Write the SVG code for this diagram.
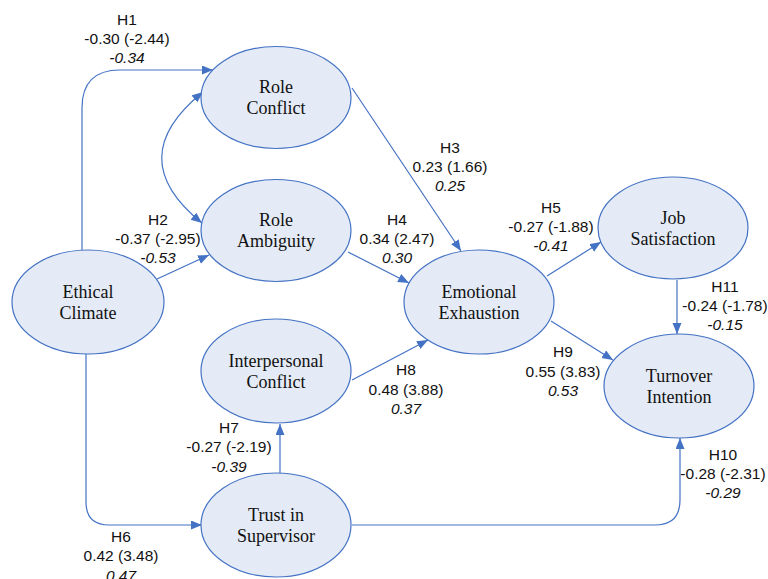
<svg xmlns="http://www.w3.org/2000/svg" width="768" height="579" viewBox="0 0 768 579">
<style>
.node ellipse{fill:#E4EBF6;stroke:#4472C4;stroke-width:1.2}
.node text{font-family:"Liberation Serif","Times New Roman",serif;font-size:18px;fill:#111;text-anchor:middle}
.edge{fill:none;stroke:#4472C4;stroke-width:1.2}
.lbl{font-family:"Liberation Sans",Arial,sans-serif;font-size:15.5px;fill:#111;text-anchor:middle}
.it{font-style:italic}
</style>
<defs>
<marker id="ah" markerUnits="userSpaceOnUse" markerWidth="12" markerHeight="10" refX="11" refY="4.5" orient="auto-start-reverse">
<path d="M0,0 L11,4.5 L0,9 z" fill="#4472C4"/>
</marker>
</defs>
<rect width="768" height="579" fill="#fff"/>
<g id="connectors">
<path class="edge" d="M82,250 V108 Q82,70 120,70 H213" marker-end="url(#ah)"/>
<path class="edge" d="M157,279 L209,255" marker-end="url(#ah)"/>
<path class="edge" d="M203,92 Q121,158 202,223" marker-start="url(#ah)" marker-end="url(#ah)"/>
<path class="edge" d="M352,88 L461,251" marker-end="url(#ah)"/>
<path class="edge" d="M348,252 L409,283" marker-end="url(#ah)"/>
<path class="edge" d="M547,276 L601,242" marker-end="url(#ah)"/>
<path class="edge" d="M352,380 L428,340" marker-end="url(#ah)"/>
<path class="edge" d="M551,321 L613,360" marker-end="url(#ah)"/>
<path class="edge" d="M677,280 L677,334" marker-end="url(#ah)"/>
<path class="edge" d="M86,354 V502 Q86,525 109,525 H202" marker-end="url(#ah)"/>
<path class="edge" d="M280,473 L280,424" marker-end="url(#ah)"/>
<path class="edge" d="M352,525 H655 Q680,525 680,500 V438" marker-end="url(#ah)"/>
</g>
<g id="labels">
<text class="lbl" x="127" y="25">H1</text><text class="lbl" x="127" y="44">-0.30 (-2.44)</text><text class="lbl it" x="127" y="63">-0.34</text>
<text class="lbl" x="158" y="225">H2</text><text class="lbl" x="158" y="244">-0.37 (-2.95)</text><text class="lbl it" x="158" y="263">-0.53</text>
<text class="lbl" x="450" y="153">H3</text><text class="lbl" x="450" y="172">0.23 (1.66)</text><text class="lbl it" x="450" y="191">0.25</text>
<text class="lbl" x="397" y="225">H4</text><text class="lbl" x="397" y="244">0.34 (2.47)</text><text class="lbl it" x="397" y="263">0.30</text>
<text class="lbl" x="551" y="213">H5</text><text class="lbl" x="551" y="232">-0.27 (-1.88)</text><text class="lbl it" x="551" y="251">-0.41</text>
<text class="lbl" x="121" y="542">H6</text><text class="lbl" x="121" y="561">0.42 (3.48)</text><text class="lbl it" x="121" y="581">0.47</text>
<text class="lbl" x="229" y="433">H7</text><text class="lbl" x="229" y="452">-0.27 (-2.19)</text><text class="lbl it" x="229" y="472">-0.39</text>
<text class="lbl" x="406" y="375">H8</text><text class="lbl" x="406" y="395">0.48 (3.88)</text><text class="lbl it" x="406" y="414">0.37</text>
<text class="lbl" x="563" y="357">H9</text><text class="lbl" x="563" y="377">0.55 (3.83)</text><text class="lbl it" x="563" y="396">0.53</text>
<text class="lbl" x="723" y="460">H10</text><text class="lbl" x="723" y="479">-0.28 (-2.31)</text><text class="lbl it" x="723" y="498">-0.29</text>
<text class="lbl" x="725" y="292">H11</text><text class="lbl" x="725" y="311">-0.24 (-1.78)</text><text class="lbl it" x="725" y="330">-0.15</text>
</g>
<g id="role-conflict" class="node"><ellipse cx="276" cy="97.5" rx="75" ry="51"/><text x="276" y="93">Role</text><text x="276" y="114">Conflict</text></g>
<g id="role-ambiguity" class="node"><ellipse cx="276" cy="230.5" rx="75" ry="51"/><text x="276" y="226">Role</text><text x="276" y="247">Ambiguity</text></g>
<g id="ethical-climate" class="node"><ellipse cx="88" cy="302" rx="76" ry="52"/><text x="88" y="297.5">Ethical</text><text x="88" y="318.5">Climate</text></g>
<g id="interpersonal-conflict" class="node"><ellipse cx="276" cy="371" rx="75" ry="52"/><text x="276" y="366.5">Interpersonal</text><text x="276" y="387.5">Conflict</text></g>
<g id="trust-in-supervisor" class="node"><ellipse cx="276" cy="525" rx="75" ry="52"/><text x="276" y="520.5">Trust in</text><text x="276" y="541.5">Supervisor</text></g>
<g id="emotional-exhaustion" class="node"><ellipse cx="479" cy="302" rx="75" ry="52"/><text x="479" y="297.5">Emotional</text><text x="479" y="318.5">Exhaustion</text></g>
<g id="job-satisfaction" class="node"><ellipse cx="673" cy="228" rx="75" ry="51"/><text x="673" y="223.5">Job</text><text x="673" y="244.5">Satisfaction</text></g>
<g id="turnover-intention" class="node"><ellipse cx="679" cy="386" rx="75" ry="52"/><text x="679" y="381.5">Turnover</text><text x="679" y="402.5">Intention</text></g>
</svg>
